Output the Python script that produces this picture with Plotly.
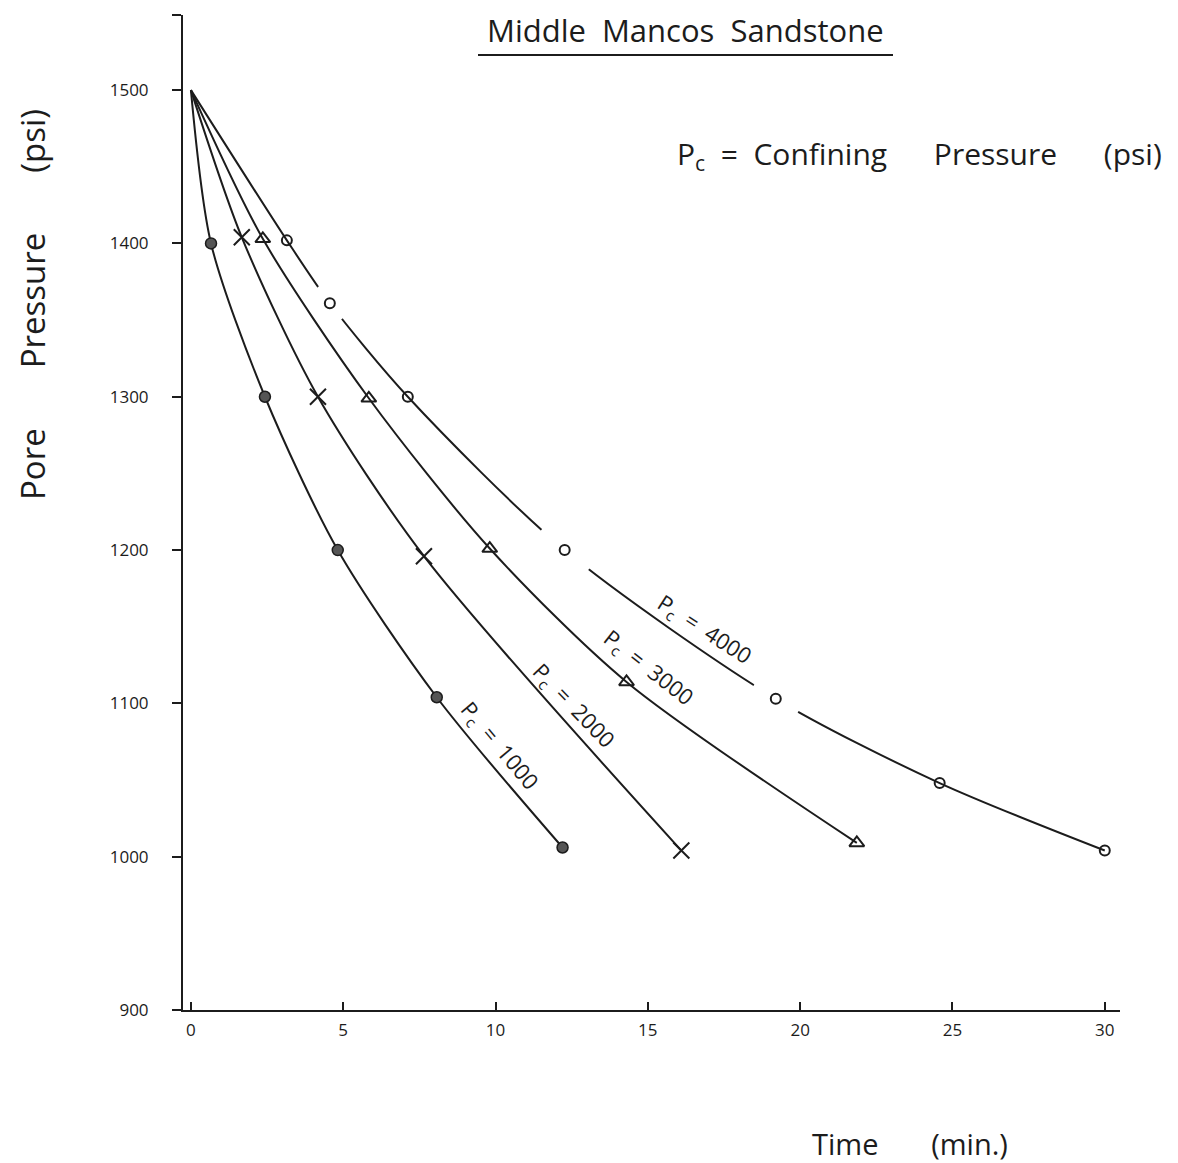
import plotly.graph_objects as go

# ---- data ----
t_1000 = [0, 0.66, 2.43, 4.82, 8.07, 12.2]
p_1000 = [1500, 1400, 1300, 1200, 1104, 1006]

t_2000 = [0, 1.67, 4.17, 7.65, 16.1]
p_2000 = [1500, 1404, 1300, 1196, 1004]

t_3000 = [0, 2.36, 5.84, 9.81, 14.3, 21.86]
p_3000 = [1500, 1403, 1299, 1201, 1114, 1009]

t_4000 = [0, 3.15, 4.56, 7.12, 12.27, 19.2, 24.58, 30]
p_4000 = [1500, 1402, 1361, 1300, 1200, 1103, 1048, 1004]

x_ticks = [0, 5, 10, 15, 20, 25, 30]
x_ticktext = ["0", "5", "10", "15", "20", "25", "30"]
y_ticks = [900, 1000, 1100, 1200, 1300, 1400, 1500, 1549]
y_ticktext = ["900", "1000", "1100", "1200", "1300", "1400", "1500", ""]

# ---- style ----
INK = "#1c1c1c"
FONT = "Open Sans"
# sizes of paper-white gaps drawn over the Pc=4000 line (one per point)
gap_4000 = [0, 0, 40, 0, 62, 52, 0, 0]

# page has an 8px body margin -> figure is 8px smaller on each axis
W, H = 1170, 1155
L, R, T, B = 175, 58, 7, 153
PW, PH = W - L - R, H - T - B
OFF = 8  # body margin


def px(xr):  # reference-image x pixel -> paper x
    return (xr - OFF - L) / PW


def py(yr):  # reference-image y pixel -> paper y
    return 1 - (yr - OFF - T) / PH


fig = go.Figure()

# Pc = 4000 line with hand-drawn gaps around some markers
fig.add_trace(go.Scatter(x=t_4000, y=p_4000, mode="lines",
                         line=dict(color=INK, width=2, shape="spline", smoothing=0.8),
                         hoverinfo="skip", showlegend=False))
fig.add_trace(go.Scatter(x=t_4000, y=p_4000, mode="markers",
                         marker=dict(color="white", size=gap_4000, opacity=1,
                                     line=dict(width=0)),
                         hoverinfo="skip", showlegend=False))

for tx, pyv in [(t_1000, p_1000), (t_2000, p_2000), (t_3000, p_3000)]:
    fig.add_trace(go.Scatter(x=tx, y=pyv, mode="lines",
                             line=dict(color=INK, width=2, shape="spline", smoothing=0.8),
                             hoverinfo="skip", showlegend=False))

# markers
fig.add_trace(go.Scatter(x=t_1000[1:], y=p_1000[1:], mode="markers", name="Pc = 1000",
                         marker=dict(symbol="circle", size=11, color="#555555", opacity=1,
                                     line=dict(color=INK, width=1.5)),
                         showlegend=False))
fig.add_trace(go.Scatter(x=t_2000[1:], y=p_2000[1:], mode="markers", name="Pc = 2000",
                         marker=dict(symbol="x-thin-open", size=16, color=INK, opacity=1,
                                     line=dict(color=INK, width=2)),
                         showlegend=False))
fig.add_trace(go.Scatter(x=t_3000[1:], y=p_3000[1:], mode="markers", name="Pc = 3000",
                         marker=dict(symbol="triangle-up-open", size=13, color=INK, opacity=1,
                                     line=dict(color=INK, width=2)),
                         showlegend=False))
fig.add_trace(go.Scatter(x=t_4000[1:], y=p_4000[1:], mode="markers", name="Pc = 4000",
                         marker=dict(symbol="circle-open", size=10, color=INK, opacity=1,
                                     line=dict(color=INK, width=2)),
                         showlegend=False))

fig.update_layout(
    width=W, height=H,
    margin=dict(l=L, r=R, t=T, b=B, autoexpand=False),
    paper_bgcolor="white", plot_bgcolor="white",
    font=dict(family=FONT, color=INK, size=16),
    xaxis=dict(range=[-0.26, 30.5], tickvals=x_ticks, ticktext=x_ticktext,
               showgrid=False, zeroline=False, showline=True, linecolor=INK, linewidth=2,
               ticks="inside", ticklen=8, tickcolor=INK, tickwidth=2,
               ticklabelstandoff=4,
               tickfont=dict(size=17, family=FONT, color=INK)),
    yaxis=dict(range=[900, 1549], tickvals=y_ticks, ticktext=y_ticktext,
               showgrid=False, zeroline=False, showline=True, linecolor=INK, linewidth=2,
               ticks="outside", ticklen=9, tickcolor=INK, tickwidth=2,
               ticklabelstandoff=20,
               tickfont=dict(size=17, family=FONT, color=INK)),
)

ann = [
    dict(text="Middle  Mancos  Sandstone", x=685, y=30, size=31, angle=0),
    dict(text="P<sub>c</sub>  =  Confining      Pressure      (psi)", x=919, y=155, size=30, angle=0),
    dict(text="Pore       Pressure       (psi)", x=33, y=305, size=33, angle=-90),
    dict(text="Time       (min.)", x=910, y=1143, size=29, angle=0),
    dict(text="P<sub>c</sub>  =  4000", x=704, y=630, size=22, angle=33),
    dict(text="P<sub>c</sub>  =  3000", x=648, y=668, size=22, angle=38),
    dict(text="P<sub>c</sub>  =  2000", x=573, y=706, size=22, angle=46),
    dict(text="P<sub>c</sub>  =  1000", x=499, y=746, size=22, angle=50),
]
for a in ann:
    fig.add_annotation(text=a["text"], x=px(a["x"]), y=py(a["y"]),
                       xref="paper", yref="paper", xanchor="center", yanchor="middle",
                       showarrow=False, textangle=a["angle"],
                       font=dict(size=a["size"], family=FONT, color=INK))

# underline of the title
fig.add_shape(type="line", xref="paper", yref="paper",
              x0=px(478), x1=px(893), y0=py(55), y1=py(55),
              line=dict(color=INK, width=2))

fig.write_html("out.html")
